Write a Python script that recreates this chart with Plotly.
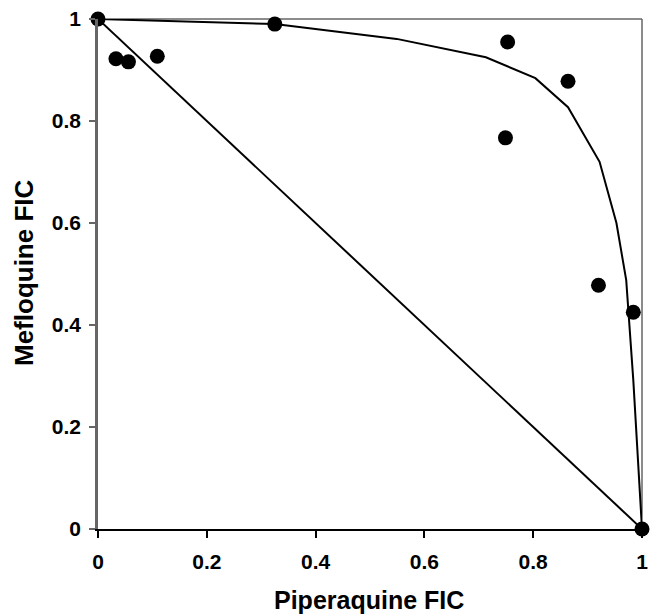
import plotly.graph_objects as go

# Observed data points (Piperaquine FIC, Mefloquine FIC)
pip_fic = [0.0, 0.033, 0.056, 0.109, 0.325, 0.753, 0.749, 0.864, 0.92, 0.984, 1.0]
mef_fic = [1.0, 0.922, 0.916, 0.927, 0.990, 0.955, 0.767, 0.878, 0.478, 0.425, 0.0]

# Fitted isobole curve
curve_x = [0.0, 0.325, 0.549, 0.713, 0.804, 0.864, 0.922, 0.953, 0.971, 0.984, 1.0]
curve_y = [1.0, 0.990, 0.961, 0.925, 0.884, 0.827, 0.720, 0.600, 0.488, 0.292, 0.0]

# Additivity line
add_x = [0.0, 1.0]
add_y = [1.0, 0.0]

tick_vals = [0, 0.2, 0.4, 0.6, 0.8, 1]
tick_text = ["0", "0.2", "0.4", "0.6", "0.8", "1"]

FONT = "Liberation Sans, Arial, sans-serif"

fig = go.Figure()
fig.add_trace(go.Scatter(x=add_x, y=add_y, mode="lines",
                         line=dict(color="black", width=2), cliponaxis=False,
                         showlegend=False, hoverinfo="skip"))
fig.add_trace(go.Scatter(x=curve_x, y=curve_y, mode="lines",
                         line=dict(color="black", width=2), cliponaxis=False,
                         showlegend=False, hoverinfo="skip"))
fig.add_trace(go.Scatter(x=pip_fic, y=mef_fic, mode="markers",
                         marker=dict(color="black", size=15), cliponaxis=False,
                         showlegend=False))

fig.update_layout(
    width=650, height=614,
    margin=dict(l=98, r=2, t=19, b=85),
    paper_bgcolor="white", plot_bgcolor="white",
    font=dict(family=FONT, color="black"),
    xaxis=dict(range=[0, 1], tickvals=tick_vals, ticktext=tick_text,
               showgrid=False, zeroline=False, showline=True,
               linecolor="black", linewidth=2, ticks="outside", ticklen=7,
               tickwidth=1.5, tickcolor="black",
               tickfont=dict(size=21, family=FONT, weight="bold"),
               ticklabelstandoff=6, ticklabeloverflow="allow"),
    yaxis=dict(range=[0, 1], tickvals=tick_vals, ticktext=tick_text,
               showgrid=False, zeroline=False, showline=True,
               linecolor="#666666", linewidth=2.5, ticks="outside", ticklen=6,
               tickwidth=1.5, tickcolor="#666666",
               tickfont=dict(size=21, family=FONT, weight="bold"),
               ticklabelstandoff=4, ticklabeloverflow="allow"),
    shapes=[
        dict(type="line", xref="paper", yref="paper", x0=0, x1=1, y0=1, y1=1,
             line=dict(color="#666666", width=1.5), layer="below"),
        dict(type="line", xref="paper", yref="paper", x0=1, x1=1, y0=0, y1=1,
             line=dict(color="#666666", width=1.5), layer="below"),
    ],
    annotations=[
        dict(text="<b>Piperaquine FIC</b>", xref="paper", yref="paper",
             x=0.498, y=-0.139, yanchor="middle", xanchor="center",
             showarrow=False, font=dict(size=25, family=FONT)),
        dict(text="<b>Mefloquine FIC</b>", xref="paper", yref="paper",
             x=-0.136, y=0.502, xanchor="center", yanchor="middle",
             textangle=-90, showarrow=False, font=dict(size=26, family=FONT)),
    ],
)

fig.write_html(
    "out.html",
    config={"displayModeBar": False, "responsive": False},
    post_script="document.body.style.margin='0';document.body.style.overflow='hidden';",
)
